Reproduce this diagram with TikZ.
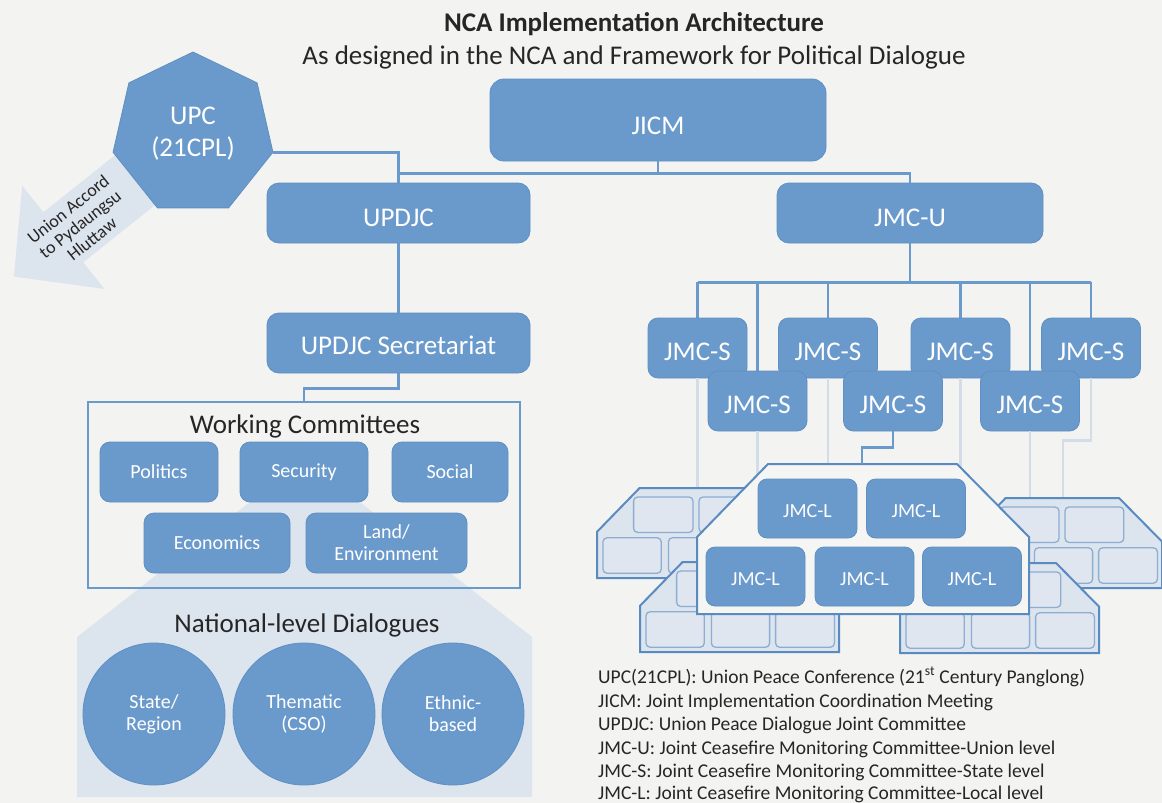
\documentclass[tikz,border=0pt]{standalone}
\usepackage{fontspec}
\setmainfont{Carlito}
\usetikzlibrary{shapes.geometric,calc}
\definecolor{bg}{HTML}{F3F3F1}
\definecolor{boxblue}{HTML}{6A9ACC}
\definecolor{boxedge}{HTML}{5F8FC3}
\definecolor{lineblue}{HTML}{6A9ACC}
\definecolor{lightfill}{HTML}{DCE4EE}
\definecolor{faintline}{HTML}{D3DDE8}
\definecolor{stackedge}{HTML}{5A8BC0}
\definecolor{minifill}{HTML}{DFE6EF}
\definecolor{miniedge}{HTML}{8DADD2}
\definecolor{frontfill}{HTML}{F5F5F3}
\definecolor{darktext}{HTML}{262626}
\newcommand\myfs[2]{\fontsize{#1}{#2}\selectfont}
\newcommand\drawstack[2]{%
  \begin{scope}[shift={(#1,#2)},scale=0.6]
    \draw[stackshape] (71,0) -- (260,0) -- (332,73) -- (332,150) -- (0,150) -- (0,73) -- cycle;
    \foreach \xa/\xb/\ya/\yb in {61/160/15/74,170/268/15/74,10/107/83/142,119/216/83/142,226/324/83/142}
      \draw[minibox] (\xa,\ya) rectangle (\xb,\yb);
  \end{scope}}
\pgfdeclarelayer{bgfill}
\pgfdeclarelayer{lines}
\pgfsetlayers{bgfill,lines,main}
\begin{document}
\begin{tikzpicture}[x=1pt,y=-1pt,
  box/.style={fill=boxblue,draw=boxedge,line width=0.8pt,rounded corners=12pt,text=white,inner sep=0pt,align=center,font=\myfs{27}{31}},
  down/.style={text height=#1,text depth=0pt},
  sbox/.style={box,rounded corners=10pt,minimum width=99pt,minimum height=60pt,down=25.5pt},
  lbox/.style={box,rounded corners=9pt,minimum width=99pt,minimum height=59pt,font=\myfs{20}{24},down=18.5pt},
  wbox/.style={box,rounded corners=10pt,minimum height=60pt,font=\myfs{20}{22}},
  dcircle/.style={circle,fill=boxblue,draw=boxedge,line width=0.8pt,minimum size=142pt,inner sep=0pt,text=white,align=center,font=\myfs{20}{22}},
  conn/.style={draw=lineblue,line width=2.5pt},
  faint/.style={draw=faintline,line width=2.5pt},
  stackshape/.style={fill=lightfill,draw=stackedge,line width=2pt},
  minibox/.style={fill=minifill,draw=miniedge,line width=1.3pt,rounded corners=4pt},
  darklabel/.style={text=darktext,inner sep=0pt}]

\useasboundingbox (0,0) rectangle (1162,803);
\begin{pgfonlayer}{bgfill}
\fill[bg] (0,0) rectangle (1162,803);
\end{pgfonlayer}

% titles
\node[darklabel,font=\myfs{27}{32}\bfseries] (title) at (634,24) {NCA Implementation Architecture};
\node[darklabel,font=\myfs{27}{32}] (subtitle) at (634,57) {As designed in the NCA and Framework for Political Dialogue};

% arrow to Pydaungsu Hluttaw
\fill[lightfill] (123.1,148.8) -- (43.4,212.3) -- (22.2,185.7) -- (13.9,276.6) -- (104.4,288.9) -- (83.2,262.3) -- (162.9,198.8) -- cycle;
\node[darklabel,rotate=38.5,align=center,font=\myfs{18}{19}] (arrowtext) at (80,224) {Union Accord\\to Pydaungsu\\Hluttaw};

% main nodes
\node[regular polygon,regular polygon sides=7,minimum size=164pt,inner sep=0pt,fill=boxblue,draw=boxedge,line width=0.8pt,text=white,align=center,font=\myfs{27}{32}] (upc) at (193,134) {UPC\\(21CPL)};
\node[box,rounded corners=14pt,minimum width=336pt,minimum height=82pt,down=28pt] (jicm) at (658,120) {JICM};
\node[box,minimum width=263pt,minimum height=60pt,down=26.5pt] (updjc) at (398.5,213) {UPDJC};
\node[box,minimum width=266pt,minimum height=60pt,down=27pt] (jmcu) at (910,213) {JMC-U};
\node[box,minimum width=263pt,minimum height=60pt,down=22pt] (sec) at (398.5,343) {UPDJC Secretariat};

% top connectors
\draw[conn] (jicm.south) -- ++(0,12) coordinate (jbus);
\draw[conn] (updjc.north) |- (jbus) -| (jmcu.north);
\draw[conn] (upc.corner 6) -| (updjc.north);
\draw[conn] (updjc.south) -- (sec.north);

% national-level dialogues background
\fill[lightfill] (305,459) -- (532,637) -- (532,797) -- (77,797) -- (77,637) -- cycle;

% working committees
\node[draw=lineblue,line width=2pt,minimum width=432pt,minimum height=186pt,inner sep=0pt] (wc) at (304,495) {};
\draw[conn] (sec.south) -- ++(0,15) -| (wc.north);
\node[darklabel,font=\myfs{27}{32}] (wctitle) at (305,426) {Working Committees};
\node[wbox,minimum width=118pt] (politics) at (159,472) {Politics};
\node[wbox,minimum width=128pt] (security) at (304,472) {Security};
\node[wbox,minimum width=116pt] (social) at (450,472) {Social};
\node[wbox,minimum width=146pt] (economics) at (217,543) {Economics};
\node[wbox,minimum width=161pt] (land) at (386.5,543) {Land/\\Environment};

\node[darklabel,font=\myfs{27}{32}] (ndtitle) at (307,625) {National-level Dialogues};
\node[dcircle] (state) at (154,714) {State/\\Region};
\node[dcircle] (thematic) at (304,714) {Thematic\\(CSO)};
\node[dcircle] (ethnic) at (453,714) {Ethnic-\\based};

% JMC-S level
\draw[conn] (jmcu.south) -- ++(0,39) coordinate (ubus);
\node[sbox] (s1) at (697.5,348) {JMC-S};
\node[sbox] (s2) at (828,348) {JMC-S};
\node[sbox] (s3) at (960.5,348) {JMC-S};
\node[sbox] (s4) at (1091,348) {JMC-S};
\node[sbox] (s5) at (757.5,401) {JMC-S};
\node[sbox] (s6) at (893,401) {JMC-S};
\node[sbox] (s7) at (1030,401) {JMC-S};
\begin{pgfonlayer}{lines}
\foreach \s in {s1,s2,s3,s4,s5,s7}
  \draw[conn] (\s.north) -- (\s.north |- ubus);
\draw[conn] (s1.north |- ubus) -- (s4.north |- ubus);
\end{pgfonlayer}

% faint links to local level
\draw[faint] (s1.south) -- ++(0,115);
\draw[faint] (s5.south) -- ++(0,50);
\draw[faint] (s2.south) -- ++(0,90);
\draw[faint] (s3.south) -- ++(0,95);
\draw[faint] (s7.south) -- ++(0,70);
\draw[faint] (s4.south) -- ++(0,62) -- ++(-28,0) -- ++(0,60);

% local level stacks
\drawstack{597}{488}
\drawstack{963}{498}
\drawstack{640}{562}
\drawstack{900}{563}

% front stack
\begin{scope}[shift={(697,464)}]
  \draw[fill=frontfill,draw=stackedge,line width=2pt] (71,0) -- (260,0) -- (332,73) -- (332,150) -- (0,150) -- (0,73) -- cycle;
  \coordinate (ftop) at (165,0);
\end{scope}
\draw[conn] (s6.south) -- ++(0,16) -| (ftop);
\node[lbox] (l1) at (807.5,508.5) {JMC-L};
\node[lbox] (l2) at (916,508.5) {JMC-L};
\node[lbox] (l3) at (755.5,576.5) {JMC-L};
\node[lbox] (l4) at (864.5,576.5) {JMC-L};
\node[lbox] (l5) at (972,576.5) {JMC-L};

% legend
\begin{scope}[every node/.style={darklabel,anchor=base west,font=\myfs{19.5}{23}}]
\node (lg1) at (598,683) {UPC(21CPL): Union Peace Conference (21\textsuperscript{st} Century Panglong)};
\node (lg2) at (598,707) {JICM: Joint Implementation Coordination Meeting};
\node (lg3) at (598,730) {UPDJC: Union Peace Dialogue Joint Committee};
\node (lg4) at (598,754) {JMC-U: Joint Ceasefire Monitoring Committee-Union level};
\node (lg5) at (598,777) {JMC-S: Joint Ceasefire Monitoring Committee-State level};
\node (lg6) at (598,799) {JMC-L: Joint Ceasefire Monitoring Committee-Local level};
\end{scope}
\end{tikzpicture}
\end{document}
